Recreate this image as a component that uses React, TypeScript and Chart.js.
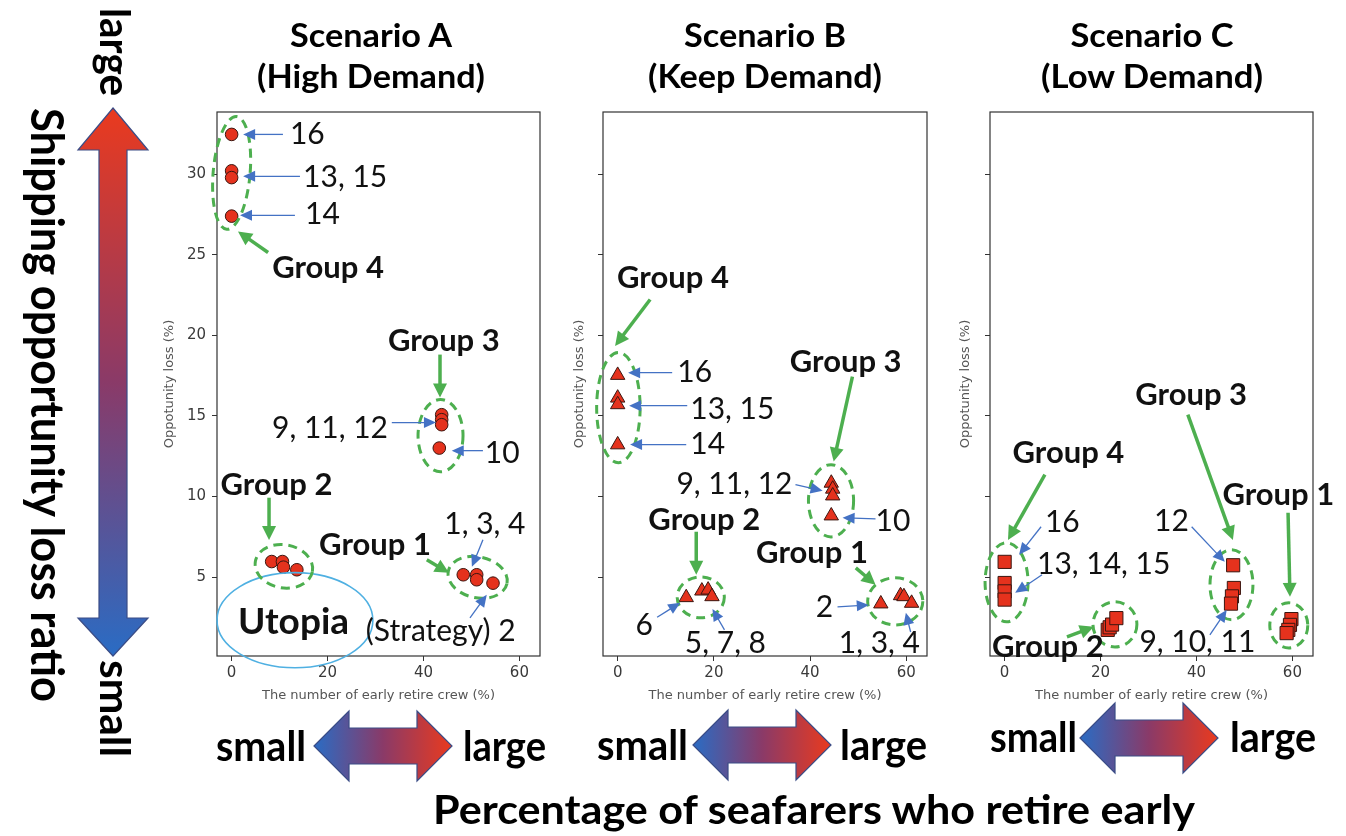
import React, { useEffect, useRef } from 'react';
import { Chart, registerables } from 'chart.js';

Chart.register(...registerables);

// ---------- shared axes ----------
const X_TICKS = [0, 20, 40, 60];
const Y_TICKS = [5, 10, 15, 20, 25, 30];
const X_MIN = -3.05;
const X_MAX = 64.3;
const Y_MIN = 0.1;
const Y_MAX = 33.85;

// Strategies 1..16
const STRATEGIES = [1, 2, 3, 4, 5, 6, 7, 8, 9, 10, 11, 12, 13, 14, 15, 16];

// ---------- Scenario A (High Demand) ----------
const A_RETIRE = [48.3, 54.5, 51.1, 51.1, 8.35, 10.6, 10.8, 13.6, 43.8, 43.3, 43.8, 43.8, 0, 0, 0, 0];
const A_LOSS = [5.14, 4.62, 5.14, 4.83, 5.96, 5.96, 5.61, 5.45, 15.07, 13.0, 14.76, 14.45, 30.2, 27.39, 29.78, 32.46];

// ---------- Scenario B (Keep Demand) ----------
const B_RETIRE = [58.8, 54.7, 59.5, 61.1, 17.5, 14.25, 18.8, 19.6, 44.4, 44.4, 44.7, 44.7, 0, 0, 0, 0];
const B_LOSS = [3.85, 3.34, 3.79, 3.38, 4.14, 3.73, 4.2, 3.79, 10.83, 8.8, 10.46, 10.04, 16.11, 13.21, 15.7, 17.52];

// ---------- Scenario C (Low Demand) ----------
const C_RETIRE = [59.8, 59.5, 59.15, 58.8, 21.5, 21.9, 22.4, 23.3, 47.8, 47.4, 47.2, 47.65, 0, 0, 0, 0];
const C_LOSS = [2.39, 2.03, 1.72, 1.52, 1.72, 1.88, 2.05, 2.45, 4.32, 3.8, 3.35, 5.73, 4.63, 4.11, 3.6, 5.94];

// ---------- annotations (data coordinates) ----------
type Ell = { cx: number; cy: number; rx: number; ry: number; rot?: number };
type Arr = [number, number, number, number];
type Lbl = { t: string; x: number; y: number; align: CanvasTextAlign; bold?: boolean; size?: number };
type Ann = { groups: Ell[]; utopia?: Ell; blue: Arr[]; green: Arr[]; labels: Lbl[] };

const ANN_A: Ann = {
  groups: [
    { cx: 0.0, cy: 30.07, rx: 3.85, ry: 3.51, rot: 5 },
    { cx: 43.56, cy: 13.77, rx: 4.69, ry: 2.24 },
    { cx: 10.9, cy: 5.66, rx: 6.04, ry: 1.34, rot: 10 },
    { cx: 51.3, cy: 4.98, rx: 6.25, ry: 1.27, rot: 12 },
  ],
  utopia: { cx: 13.2, cy: 2.32, rx: 16.25, ry: 2.95 },
  blue: [
    [10.7, 32.46, 2.4, 32.46],
    [14.25, 29.86, 2.4, 29.86],
    [13.2, 27.44, 1.75, 27.44],
    [33.4, 14.58, 42.6, 14.58],
    [52.4, 12.84, 45.9, 12.84],
    [52.4, 7.31, 50.1, 5.63],
    [49.7, 2.47, 53.2, 3.9],
  ],
  green: [
    [7.6, 25.13, 1.33, 26.44],
    [43.45, 18.8, 43.45, 16.13],
    [7.8, 9.92, 7.8, 7.3],
    [40.7, 6.07, 45.3, 5.26],
  ],
  labels: [
    { t: '16', x: 12.15, y: 32.46, align: 'left' },
    { t: '13, 15', x: 14.9, y: 29.8, align: 'left' },
    { t: '14', x: 15.3, y: 27.5, align: 'left' },
    { t: 'Group 4', x: 8.45, y: 24.2, align: 'left', bold: true },
    { t: 'Group 3', x: 44.25, y: 19.63, align: 'center', bold: true },
    { t: '9, 11, 12', x: 32.6, y: 14.2, align: 'right' },
    { t: '10', x: 52.8, y: 12.7, align: 'left' },
    { t: 'Group 2', x: 9.35, y: 10.7, align: 'center', bold: true },
    { t: 'Group 1', x: 29.9, y: 7.0, align: 'center', bold: true },
    { t: '1, 3, 4', x: 52.8, y: 8.24, align: 'center' },
    { t: '(Strategy) 2', x: 43.6, y: 1.61, align: 'center' },
    { t: 'Utopia', x: 12.9, y: 2.22, align: 'center', bold: true, size: 37 },
  ],
};

const ANN_B: Ann = {
  groups: [
    { cx: 0.15, cy: 15.51, rx: 4.52, ry: 3.42 },
    { cx: 44.35, cy: 9.73, rx: 4.69, ry: 2.24 },
    { cx: 17.27, cy: 3.74, rx: 4.9, ry: 1.27 },
    { cx: 57.7, cy: 3.49, rx: 5.73, ry: 1.46 },
  ],
  blue: [
    [11.33, 17.68, 2.17, 17.68],
    [14.46, 15.63, 2.38, 15.63],
    [14.25, 13.22, 2.58, 13.22],
    [36.96, 10.73, 42.6, 10.35],
    [53.6, 8.61, 46.75, 8.67],
    [8.2, 2.5, 13.0, 3.4],
    [22.2, 1.72, 19.7, 3.02],
    [45.7, 3.15, 52.2, 3.27],
    [60.9, 1.59, 59.9, 2.78],
  ],
  green: [
    [6.75, 22.22, -0.54, 19.34],
    [48.8, 17.43, 44.9, 12.16],
    [16.33, 7.81, 16.33, 5.14],
    [49.5, 5.57, 53.6, 4.52],
  ],
  labels: [
    { t: 'Group 4', x: 11.5, y: 23.57, align: 'center', bold: true },
    { t: '16', x: 12.4, y: 17.68, align: 'left' },
    { t: '13, 15', x: 15.1, y: 15.39, align: 'left' },
    { t: '14', x: 15.1, y: 13.21, align: 'left' },
    { t: 'Group 3', x: 47.4, y: 18.37, align: 'center', bold: true },
    { t: '9, 11, 12', x: 36.33, y: 10.73, align: 'right' },
    { t: '10', x: 53.6, y: 8.43, align: 'left' },
    { t: 'Group 2', x: 18.0, y: 8.55, align: 'center', bold: true },
    { t: '6', x: 5.5, y: 2.03, align: 'center' },
    { t: '5, 7, 8', x: 22.4, y: 0.91, align: 'center' },
    { t: 'Group 1', x: 40.4, y: 6.5, align: 'center', bold: true },
    { t: '2', x: 43.0, y: 3.09, align: 'center' },
    { t: '1, 3, 4', x: 54.4, y: 0.91, align: 'center' },
  ],
};

const ANN_C: Ann = {
  groups: [
    { cx: 0.4, cy: 4.67, rx: 4.48, ry: 2.45 },
    { cx: 23.0, cy: 2.06, rx: 4.58, ry: 1.4 },
    { cx: 47.3, cy: 4.52, rx: 4.48, ry: 2.17 },
    { cx: 59.25, cy: 2.0, rx: 3.96, ry: 1.4 },
  ],
  blue: [
    [7.6, 8.12, 3.0, 6.38],
    [7.8, 5.14, 2.2, 4.02],
    [39.0, 8.12, 45.9, 5.94],
    [42.8, 1.41, 46.3, 2.96],
  ],
  green: [
    [8.4, 11.35, 0.7, 7.3],
    [13.0, 1.29, 18.6, 1.91],
    [38.2, 15.07, 47.6, 7.3],
    [59.1, 8.99, 59.5, 3.77],
  ],
  labels: [
    { t: 'Group 4', x: 13.3, y: 12.71, align: 'center', bold: true },
    { t: '16', x: 8.4, y: 8.37, align: 'left' },
    { t: '13, 14, 15', x: 6.75, y: 5.76, align: 'left' },
    { t: 'Group 2', x: 9.0, y: 0.66, align: 'center', bold: true },
    { t: '12', x: 34.8, y: 8.43, align: 'center' },
    { t: 'Group 3', x: 38.9, y: 16.3, align: 'center', bold: true },
    { t: '9, 10, 11', x: 40.2, y: 0.97, align: 'center' },
    { t: 'Group 1', x: 57.06, y: 10.1, align: 'center', bold: true },
  ],
};

// ---------- styles ----------
const MARK_FILL = '#E5321D';
const MARK_EDGE = '#3b1610';
const GREEN = '#4DAF4F';
const BLUE = '#4472C4';
const UTOPIA = '#4FB0E2';
const LABEL_FONT = 'Lato, "Open Sans", sans-serif';
const AXIS_FONT = '"DejaVu Sans", sans-serif';
const NUM_SIZE = 30;
const GROUP_SIZE = 31;

function drawArrow(
  ctx: CanvasRenderingContext2D,
  x1: number, y1: number, x2: number, y2: number,
  color: string, lw: number, headLen: number, headW: number
) {
  const ang = Math.atan2(y2 - y1, x2 - x1);
  const c = Math.cos(ang);
  const s = Math.sin(ang);
  const bx = x2 - headLen * c;
  const by = y2 - headLen * s;
  ctx.strokeStyle = color;
  ctx.lineWidth = lw;
  ctx.setLineDash([]);
  ctx.beginPath();
  ctx.moveTo(x1, y1);
  ctx.lineTo(bx + c, by + s);
  ctx.stroke();
  ctx.fillStyle = color;
  ctx.beginPath();
  ctx.moveTo(x2, y2);
  ctx.lineTo(bx + (headW / 2) * s, by - (headW / 2) * c);
  ctx.lineTo(bx - (headW / 2) * s, by + (headW / 2) * c);
  ctx.closePath();
  ctx.fill();
}

function makeAnnotPlugin(ann: Ann) {
  return {
    id: 'annot',
    beforeDatasetsDraw(chart: any) {
      const { ctx, chartArea } = chart;
      ctx.save();
      ctx.strokeStyle = '#333';
      ctx.lineWidth = 1.2;
      ctx.strokeRect(chartArea.left, chartArea.top, chartArea.right - chartArea.left, chartArea.bottom - chartArea.top);
      ctx.restore();
    },
    afterDatasetsDraw(chart: any) {
      const ctx: CanvasRenderingContext2D = chart.ctx;
      const xs = chart.scales.x;
      const ys = chart.scales.y;
      const X = (v: number) => xs.getPixelForValue(v);
      const Y = (v: number) => ys.getPixelForValue(v);
      ctx.save();
      const ellipse = (e: Ell) => {
        const cx = X(e.cx);
        const cy = Y(e.cy);
        const rx = Math.abs(X(e.cx + e.rx) - cx);
        const ry = Math.abs(Y(e.cy + e.ry) - cy);
        ctx.beginPath();
        ctx.ellipse(cx, cy, rx, ry, ((e.rot || 0) * Math.PI) / 180, 0, Math.PI * 2);
        ctx.stroke();
      };
      if (ann.utopia) {
        ctx.strokeStyle = UTOPIA;
        ctx.lineWidth = 1.6;
        ctx.setLineDash([]);
        ellipse(ann.utopia);
      }
      ctx.strokeStyle = GREEN;
      ctx.lineWidth = 3;
      ctx.setLineDash([9, 6]);
      ann.groups.forEach(ellipse);
      ctx.setLineDash([]);
      ann.green.forEach(([a, b, c, d]) => drawArrow(ctx, X(a), Y(b), X(c), Y(d), GREEN, 3.5, 14, 14));
      ann.blue.forEach(([a, b, c, d]) => drawArrow(ctx, X(a), Y(b), X(c), Y(d), BLUE, 1.3, 12, 11));
      ctx.fillStyle = '#111';
      ctx.textBaseline = 'middle';
      ann.labels.forEach((l) => {
        const size = l.size || (l.bold ? GROUP_SIZE : NUM_SIZE);
        ctx.font = `${l.bold ? 'bold ' : ''}${size}px ${LABEL_FONT}`;
        ctx.textAlign = l.align;
        ctx.fillText(l.t, X(l.x), Y(l.y));
      });
      ctx.restore();
    },
  };
}

type PanelCfg = {
  key: string;
  left: number;
  width: number;
  padLeft: number;
  padRight: number;
  yAxisWidth: number;
  showYLabels: boolean;
  xs: number[];
  ys: number[];
  style: 'circle' | 'triangle' | 'rect';
  radius: number;
  ann: Ann;
};

const CANVAS_TOP = 88;
const CANVAS_H = 630;

const PANELS: PanelCfg[] = [
  { key: 'A', left: 100, width: 470, padLeft: 58.2, padRight: 30, yAxisWidth: 58.8, showYLabels: true, xs: A_RETIRE, ys: A_LOSS, style: 'circle', radius: 6.3, ann: ANN_A },
  { key: 'B', left: 560, width: 400, padLeft: 8.2, padRight: 33, yAxisWidth: 34.8, showYLabels: false, xs: B_RETIRE, ys: B_LOSS, style: 'triangle', radius: 8.3, ann: ANN_B },
  { key: 'C', left: 950, width: 396, padLeft: 4.2, padRight: 33, yAxisWidth: 35.8, showYLabels: false, xs: C_RETIRE, ys: C_LOSS, style: 'rect', radius: 9.3, ann: ANN_C },
];

function Panel({ cfg }: { cfg: PanelCfg }) {
  const ref = useRef<HTMLCanvasElement>(null);
  useEffect(() => {
    const canvas = ref.current!;
    const chart = new Chart(canvas, {
      type: 'scatter',
      data: {
        datasets: [
          {
            label: 'Scenario ' + cfg.key,
            data: STRATEGIES.map((_, i) => ({ x: cfg.xs[i], y: cfg.ys[i] })),
            pointStyle: cfg.style,
            pointRadius: cfg.radius,
            backgroundColor: MARK_FILL,
            borderColor: MARK_EDGE,
            borderWidth: 1,
          },
        ],
      },
      options: {
        responsive: false,
        animation: false,
        events: [],
        devicePixelRatio: 1,
        layout: { padding: { left: cfg.padLeft, right: cfg.padRight, top: 24, bottom: 10.2 } },
        plugins: { legend: { display: false }, tooltip: { enabled: false }, title: { display: false } },
        scales: {
          x: {
            type: 'linear',
            min: X_MIN,
            max: X_MAX,
            afterBuildTicks: (s: any) => { s.ticks = X_TICKS.map((v) => ({ value: v })); },
            afterFit: (s: any) => { s.height = 51.8; },
            grid: { display: true, drawOnChartArea: false, drawTicks: true, tickLength: 5, color: '#333', lineWidth: 1 },
            border: { display: false },
            ticks: { font: { family: AXIS_FONT, size: 15 }, color: '#3a3a3a', padding: 3, maxRotation: 0, autoSkip: false },
            title: { display: true, text: 'The number of early retire crew (%)', font: { family: AXIS_FONT, size: 13 }, color: '#555', padding: { top: 4, bottom: 4 } },
          },
          y: {
            type: 'linear',
            min: Y_MIN,
            max: Y_MAX,
            afterBuildTicks: (s: any) => { s.ticks = Y_TICKS.map((v) => ({ value: v })); },
            afterFit: (s: any) => { s.width = cfg.yAxisWidth; },
            grid: { display: true, drawOnChartArea: false, drawTicks: true, tickLength: 5, color: '#333', lineWidth: 1 },
            border: { display: false },
            ticks: {
              font: { family: AXIS_FONT, size: 15 },
              color: '#3a3a3a',
              padding: 6,
              autoSkip: false,
              callback: (v: any) => (cfg.showYLabels ? String(v) : ''),
            },
            title: { display: true, text: 'Oppotunity loss (%)', font: { family: AXIS_FONT, size: 13 }, color: '#555', padding: { top: 4, bottom: 4 } },
          },
        },
      },
      plugins: [makeAnnotPlugin(cfg.ann)],
    } as any);
    return () => chart.destroy();
  }, [cfg]);
  return (
    <canvas
      ref={ref}
      width={cfg.width}
      height={CANVAS_H}
      style={{ position: 'absolute', left: cfg.left, top: CANVAS_TOP, width: cfg.width, height: CANVAS_H }}
    />
  );
}

const FIG_FONT = 'Lato, "Open Sans", sans-serif';

function hArrowPath(xl: number, xr: number, cy: number) {
  const h = 35;
  const hh = 35;
  const sh = 18;
  return `M${xl},${cy} L${xl + h},${cy - hh} L${xl + h},${cy - sh} L${xr - h},${cy - sh} L${xr - h},${cy - hh} L${xr},${cy} L${xr - h},${cy + hh} L${xr - h},${cy + sh} L${xl + h},${cy + sh} L${xl + h},${cy + hh} Z`;
}

function Decorations() {
  const vArrow = 'M113,108 L148,150 L127,150 L127,618 L148,618 L113,656 L78,618 L99,618 L99,150 L78,150 Z';
  const titles = [
    { a: 'Scenario A', b: '(High Demand)', cx: 371, wa: 162, wb: 228 },
    { a: 'Scenario B', b: '(Keep Demand)', cx: 765, wa: 162, wb: 234 },
    { a: 'Scenario C', b: '(Low Demand)', cx: 1152, wa: 163, wb: 222 },
  ];
  const bottoms = [
    { xl: 314, xr: 452, cy: 746, sEnd: 306, sW: 90, lStart: 463, lW: 83, base: 761 },
    { xl: 693, xr: 831, cy: 745, sEnd: 688, sW: 91, lStart: 840, lW: 87, base: 760 },
    { xl: 1080, xr: 1218, cy: 738, sEnd: 1077, sW: 87, lStart: 1230, lW: 86, base: 752 },
  ];
  return (
    <svg width={1346} height={836} style={{ position: 'absolute', left: 0, top: 0, pointerEvents: 'none' }}>
      <defs>
        <linearGradient id="gradV" x1="0" y1="0" x2="0" y2="1">
          <stop offset="0" stopColor="#EA3A1E" />
          <stop offset="0.5" stopColor="#8A3A68" />
          <stop offset="1" stopColor="#2A6CC4" />
        </linearGradient>
        <linearGradient id="gradH" x1="0" y1="0" x2="1" y2="0">
          <stop offset="0" stopColor="#2A6CC4" />
          <stop offset="0.5" stopColor="#8A3A68" />
          <stop offset="1" stopColor="#EA3A1E" />
        </linearGradient>
      </defs>
      <path d={vArrow} fill="url(#gradV)" stroke="#3A4C86" strokeWidth={1.2} />
      <text transform="translate(100,8) rotate(90)" fontFamily={FIG_FONT} fontWeight="bold" fontSize={42} textLength={88} lengthAdjust="spacingAndGlyphs" fill="#000">large</text>
      <text transform="translate(100,660) rotate(90)" fontFamily={FIG_FONT} fontWeight="bold" fontSize={42} textLength={97} lengthAdjust="spacingAndGlyphs" fill="#000">small</text>
      <text transform="translate(31,405) rotate(90)" textAnchor="middle" fontFamily={FIG_FONT} fontWeight="bold" fontSize={45} textLength={594} lengthAdjust="spacingAndGlyphs" fill="#000">Shipping opportunity loss ratio</text>
      {titles.map((t) => (
        <g key={t.a}>
          <text x={t.cx} y={47} textAnchor="middle" fontFamily={FIG_FONT} fontWeight="bold" fontSize={33} textLength={t.wa} lengthAdjust="spacingAndGlyphs" fill="#000">{t.a}</text>
          <text x={t.cx} y={88} textAnchor="middle" fontFamily={FIG_FONT} fontWeight="bold" fontSize={33} textLength={t.wb} lengthAdjust="spacingAndGlyphs" fill="#000">{t.b}</text>
        </g>
      ))}
      {bottoms.map((b, i) => (
        <g key={i}>
          <path d={hArrowPath(b.xl, b.xr, b.cy)} fill="url(#gradH)" stroke="#3A4C86" strokeWidth={1.2} />
          <text x={b.sEnd} y={b.base} textAnchor="end" fontFamily={FIG_FONT} fontWeight="bold" fontSize={42} textLength={b.sW} lengthAdjust="spacingAndGlyphs" fill="#000">small</text>
          <text x={b.lStart} y={b.base} fontFamily={FIG_FONT} fontWeight="bold" fontSize={42} textLength={b.lW} lengthAdjust="spacingAndGlyphs" fill="#000">large</text>
        </g>
      ))}
      <text x={814} y={824} textAnchor="middle" fontFamily={FIG_FONT} fontWeight="bold" fontSize={40} textLength={762} lengthAdjust="spacingAndGlyphs" fill="#000">Percentage of seafarers who retire early</text>
    </svg>
  );
}

export default function App() {
  return (
    <div style={{ position: 'absolute', left: 0, top: 0, width: 1346, height: 836, overflow: 'hidden', background: '#fff' }}>
      {PANELS.map((p) => (
        <Panel key={p.key} cfg={p} />
      ))}
      <Decorations />
    </div>
  );
}
